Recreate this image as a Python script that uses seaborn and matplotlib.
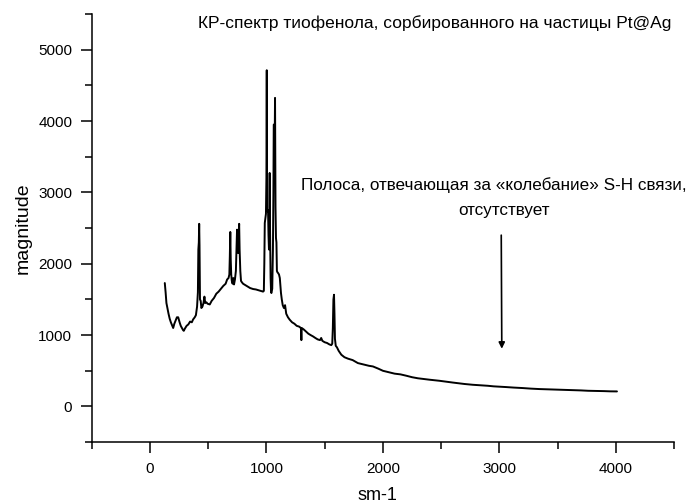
import matplotlib
matplotlib.use("Agg")
import matplotlib.pyplot as plt
import seaborn as sns
import pandas as pd
from matplotlib.ticker import MultipleLocator

# Raman shift (sm-1) and intensity
shift = [128, 135, 142, 150, 160, 170, 180, 192, 200, 210, 220, 232, 243, 255, 265,
         275, 285, 291, 300, 315, 330, 345, 360, 371, 385, 395, 405, 412, 416, 420,
         423, 426, 430, 436, 442, 451, 460, 468, 475, 485, 495, 514, 530, 550, 570,
         590, 610, 630, 650, 663, 675, 682, 686, 690, 694, 698, 703, 710, 716, 722,
         730, 738, 743, 748, 752, 758, 762, 766, 770, 776, 782, 790, 800, 820, 840,
         860, 886, 910, 930, 950, 971, 978, 982, 986, 992, 996, 1000, 1003, 1006, 1010,
         1014, 1018, 1022, 1025, 1028, 1031, 1036, 1040, 1043, 1050, 1056, 1060, 1063, 1066, 1070,
         1074, 1078, 1082, 1086, 1090, 1095, 1100, 1108, 1115, 1120, 1125, 1132, 1140, 1150, 1160,
         1170, 1185, 1200, 1220, 1240, 1260, 1280, 1296, 1300, 1303, 1320, 1340, 1360, 1380, 1400,
         1420, 1440, 1460, 1470, 1480, 1500, 1520, 1540, 1557, 1565, 1570, 1575, 1580, 1584, 1588,
         1595, 1605, 1620, 1643, 1670, 1700, 1740, 1785, 1830, 1880, 1914, 1960, 2000, 2050, 2100,
         2150, 2200, 2250, 2300, 2350, 2400, 2485, 2550, 2600, 2650, 2700, 2771, 2850, 2900, 2950,
         3000, 3056, 3120, 3200, 3270, 3342, 3420, 3500, 3560, 3628, 3700, 3760, 3820, 3900, 3950,
         4008]
intensity = [1730, 1600, 1450, 1380, 1300, 1230, 1180, 1130, 1100, 1160, 1200, 1250, 1250, 1180, 1130,
             1100, 1070, 1060, 1090, 1130, 1150, 1190, 1180, 1220, 1250, 1280, 1400, 1600, 2200, 2300,
             2560, 2260, 1500, 1480, 1380, 1400, 1450, 1540, 1450, 1460, 1440, 1430, 1480, 1520, 1580,
             1610, 1650, 1690, 1720, 1780, 1800, 1850, 2100, 2446, 2050, 1850, 1760, 1720, 1800, 1710,
             1780, 1900, 2200, 2478, 2300, 2150, 2400, 2560, 2200, 1900, 1760, 1740, 1720, 1700, 1680,
             1660, 1646, 1640, 1630, 1620, 1610, 1620, 2000, 2572, 2650, 2700, 3200, 4713, 2750, 2735,
             2750, 2400, 2200, 2600, 3273, 2500, 1800, 1600, 1590, 1650, 2200, 3000, 3951, 3951, 3500,
             4325, 2800, 2362, 2300, 1900, 1880, 1871, 1850, 1800, 1700, 1590, 1500, 1420, 1380, 1420,
             1300, 1250, 1216, 1180, 1160, 1130, 1120, 1100, 930, 1100, 1080, 1050, 1020, 1000, 982,
             960, 940, 930, 960, 920, 900, 890, 870, 860, 880, 1100, 1500, 1566, 1300, 950,
             850, 830, 780, 725, 690, 670, 650, 608, 590, 570, 561, 530, 500, 480, 460,
             450, 431, 410, 395, 385, 375, 360, 345, 335, 325, 315, 304, 295, 290, 282,
             278, 272, 265, 258, 250, 244, 240, 235, 233, 230, 225, 220, 218, 215, 212,
             211]

title_text = "КР-спектр тиофенола, сорбированного на частицы Pt@Ag"
note_lines = ["Полоса, отвечающая за «колебание» S-H связи,", "отсутствует"]
arrow_x = [3015, 3020]
arrow_y = [2440, 770]

df = pd.DataFrame({"shift": shift, "intensity": intensity})

sns.set_style("ticks")
plt.rcParams["font.family"] = ["Liberation Sans", "DejaVu Sans"]
plt.rcParams["text.color"] = "black"
plt.rcParams["axes.labelcolor"] = "black"

fig = plt.figure(figsize=(6.94, 5.03), dpi=100)
ax = fig.add_axes([0.132, 0.121, 0.8396, 0.851])

sns.lineplot(data=df, x="shift", y="intensity", ax=ax, color="black", linewidth=1.4)

ax.set_xlim(-500, 4500)
ax.set_ylim(-500, 5500)
ax.xaxis.set_major_locator(MultipleLocator(1000))
ax.xaxis.set_minor_locator(MultipleLocator(500))
ax.yaxis.set_major_locator(MultipleLocator(1000))
ax.yaxis.set_minor_locator(MultipleLocator(500))
ax.tick_params(which="major", direction="out", length=8, width=1.1, labelsize=11, pad=6, colors="black")
ax.tick_params(which="minor", direction="out", length=5, width=1.1, colors="black")
sns.despine(ax=ax)
for s in ["left", "bottom"]:
    ax.spines[s].set_linewidth(1.1)
    ax.spines[s].set_color("black")

ax.set_xlabel("sm-1", fontsize=13, va="center")
ax.xaxis.set_label_coords(0.491, -0.124)
ax.set_ylabel("magnitude", fontsize=14, va="center")
ax.yaxis.set_label_coords(-0.118, 0.5)

fig.text(435 / 694, 1 - 23 / 503, title_text, ha="center", va="center", fontsize=12.5)
ax.text(2948, 3110, note_lines[0], ha="center", va="center", fontsize=12.3)
ax.text(3042, 2750, note_lines[1], ha="center", va="center", fontsize=12.3)
ax.annotate("", xy=(arrow_x[1], arrow_y[1]), xytext=(arrow_x[0], arrow_y[0]),
            arrowprops=dict(arrowstyle="-|>", color="black", lw=1.2, mutation_scale=9))

fig.savefig("out.png", dpi=100)
